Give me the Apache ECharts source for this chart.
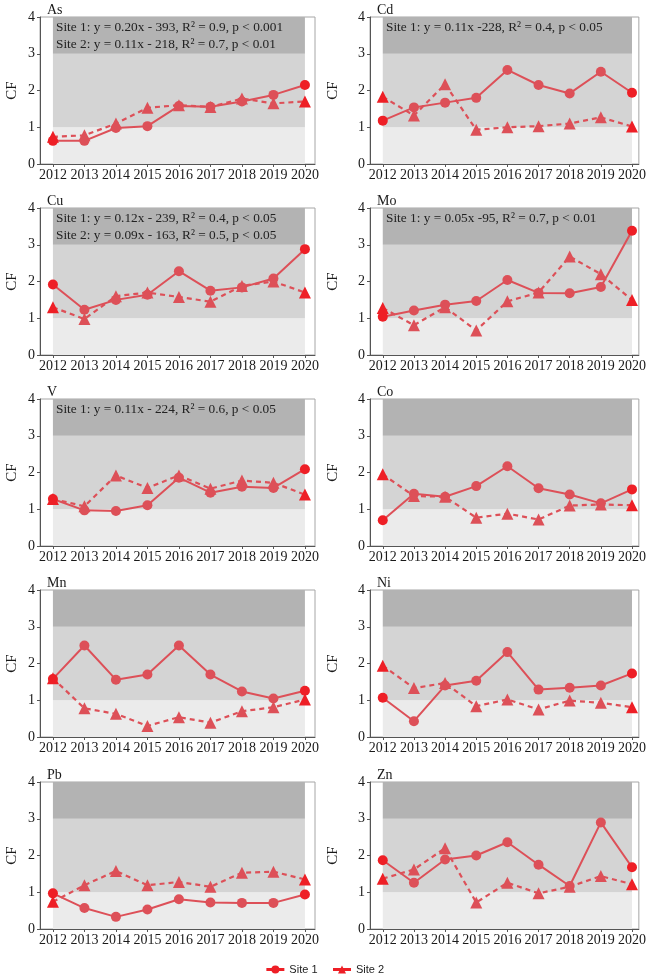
<!DOCTYPE html>
<html>
<head>
<meta charset="utf-8">
<script src="https://cdn.jsdelivr.net/npm/echarts@6/dist/echarts.min.js"></script>
<style>
  html, body { margin: 0; padding: 0; background: #fff; }
  #main { width: 649px; height: 974px; }
</style>
</head>
<body>
<div id="main"></div>
<script>
  // years on the x axis, CF ticks on the y axis
  const years = [2012, 2013, 2014, 2015, 2016, 2017, 2018, 2019, 2020];
  const yTicks = [0, 1, 2, 3, 4];
  // CF class bands: low / moderate / considerable
  const bandEdges = [0, 1, 3, 4];
  const bandColors = ['#ebebeb', '#d4d4d4', '#b3b3b3'];

  const elements = ['As', 'Cd', 'Cu', 'Mo', 'V', 'Co', 'Mn', 'Ni', 'Pb', 'Zn'];

  const asSite1 = [0.63, 0.63, 0.98, 1.03, 1.58, 1.56, 1.70, 1.88, 2.15];
  const asSite2 = [0.74, 0.78, 1.10, 1.53, 1.60, 1.55, 1.78, 1.65, 1.70];
  const cdSite1 = [1.18, 1.54, 1.67, 1.80, 2.56, 2.15, 1.92, 2.51, 1.94];
  const cdSite2 = [1.83, 1.32, 2.17, 0.93, 1.00, 1.03, 1.10, 1.27, 1.02];
  const cuSite1 = [1.92, 1.23, 1.50, 1.64, 2.28, 1.75, 1.84, 2.08, 2.88];
  const cuSite2 = [1.30, 0.98, 1.60, 1.70, 1.58, 1.45, 1.88, 2.00, 1.70];
  const moSite1 = [1.04, 1.21, 1.37, 1.47, 2.04, 1.69, 1.68, 1.85, 3.38];
  const moSite2 = [1.28, 0.81, 1.30, 0.67, 1.46, 1.70, 2.68, 2.20, 1.50];
  const vSite1 = [1.28, 0.97, 0.95, 1.11, 1.86, 1.45, 1.61, 1.58, 2.09];
  const vSite2 = [1.28, 1.08, 1.92, 1.58, 1.92, 1.56, 1.78, 1.72, 1.40];
  const coSite1 = [0.70, 1.42, 1.34, 1.63, 2.17, 1.57, 1.40, 1.16, 1.54];
  const coSite2 = [1.95, 1.36, 1.34, 0.77, 0.88, 0.72, 1.10, 1.13, 1.11];
  const mnSite1 = [1.58, 2.49, 1.56, 1.70, 2.49, 1.70, 1.24, 1.05, 1.26];
  const mnSite2 = [1.60, 0.78, 0.63, 0.30, 0.54, 0.39, 0.70, 0.81, 1.02];
  const niSite1 = [1.07, 0.43, 1.40, 1.53, 2.31, 1.29, 1.34, 1.40, 1.73];
  const niSite2 = [1.94, 1.33, 1.47, 0.84, 1.02, 0.75, 0.99, 0.93, 0.81];
  const pbSite1 = [0.97, 0.57, 0.33, 0.53, 0.81, 0.72, 0.71, 0.71, 0.94];
  const pbSite2 = [0.74, 1.19, 1.58, 1.19, 1.28, 1.15, 1.53, 1.56, 1.35];
  const znSite1 = [1.87, 1.26, 1.89, 2.00, 2.36, 1.75, 1.17, 2.90, 1.68];
  const znSite2 = [1.37, 1.62, 2.20, 0.72, 1.26, 0.97, 1.15, 1.44, 1.22];

  const site1 = [asSite1, cdSite1, cuSite1, moSite1, vSite1, coSite1, mnSite1, niSite1, pbSite1, znSite1];
  const site2 = [asSite2, cdSite2, cuSite2, moSite2, vSite2, coSite2, mnSite2, niSite2, pbSite2, znSite2];

  // regression notes printed in the top band
  const asFit = ['Site 1: y = 0.20x - 393, R\u00b2 = 0.9, p < 0.001', 'Site 2: y = 0.11x - 218, R\u00b2 = 0.7, p < 0.01'];
  const cdFit = ['Site 1: y = 0.11x -228, R\u00b2 = 0.4, p < 0.05'];
  const cuFit = ['Site 1: y = 0.12x - 239, R\u00b2 = 0.4, p < 0.05', 'Site 2: y = 0.09x - 163, R\u00b2 = 0.5, p < 0.05'];
  const moFit = ['Site 1: y = 0.05x -95, R\u00b2 = 0.7, p < 0.01'];
  const vFit = ['Site 1: y = 0.11x - 224, R\u00b2 = 0.6, p < 0.05'];
  const fits = [asFit, cdFit, cuFit, moFit, vFit, [], [], [], [], []];

  // layout
  const serif = "'Liberation Serif', 'Times New Roman', serif";
  const colLeft = [40, 370];
  const colWidth = [275, 272];
  const xMin = 2011.59;
  const xMax = [2020.32, 2020.22];
  const rowTop = [17, 208, 399, 590, 782];
  const plotH = 147;
  const lineColor = '#dd5058';
  const endColor = '#ee1f26';

  const grids = [], xAxes = [], yAxes = [], series = [], titles = [], graphics = [];

  elements.forEach(function (el, i) {
    const col = i % 2, row = Math.floor(i / 2);
    const left = colLeft[col], top = rowTop[row];

    grids.push({
      left: left, top: top, width: colWidth[col], height: plotH,
      show: true, backgroundColor: '#fff', borderColor: '#a6a6a6', borderWidth: 1
    });
    xAxes.push({
      type: 'value', gridIndex: i, min: xMin, max: xMax[col],
      axisLine: { show: true, onZero: false, lineStyle: { color: '#555', width: 1 } },
      axisTick: { show: true, customValues: years, length: 3, lineStyle: { color: '#555' } },
      axisLabel: {
        customValues: years, margin: 4, fontFamily: serif, fontSize: 14, color: '#1a1a1a',
        formatter: function (v) { return String(v); }
      },
      splitLine: { show: false }
    });
    yAxes.push({
      type: 'value', gridIndex: i, min: yTicks[0], max: yTicks[yTicks.length - 1], interval: 1,
      name: 'CF', nameLocation: 'middle', nameGap: col === 0 ? 20 : 29,
      nameTextStyle: { fontFamily: serif, fontSize: 15, color: '#1a1a1a' },
      axisLine: { show: true, lineStyle: { color: '#555', width: 1 } },
      axisTick: { show: true, length: 3, lineStyle: { color: '#555' } },
      axisLabel: { margin: 5, fontFamily: serif, fontSize: 14, color: '#1a1a1a' },
      splitLine: { show: false }
    });

    const bands = [];
    for (let b = 0; b < bandColors.length; b++) {
      bands.push([
        { coord: [years[0], bandEdges[b]], itemStyle: { color: bandColors[b] } },
        { coord: [years[years.length - 1], bandEdges[b + 1]] }
      ]);
    }
    series.push({
      type: 'line', xAxisIndex: i, yAxisIndex: i, data: [], silent: true, z: 1,
      markArea: { silent: true, itemStyle: { opacity: 1 }, data: bands }
    });

    const last = years.length - 1;
    const pointColor = function (p) {
      return (p.dataIndex === 0 || p.dataIndex === last) ? endColor : lineColor;
    };
    series.push({
      name: 'Site 1', type: 'line', xAxisIndex: i, yAxisIndex: i, z: 3,
      data: years.map(function (y, k) { return [y, site1[i][k]]; }),
      symbol: 'circle', symbolSize: 10,
      lineStyle: { color: lineColor, width: 2 },
      itemStyle: { color: pointColor }
    });
    series.push({
      name: 'Site 2', type: 'line', xAxisIndex: i, yAxisIndex: i, z: 3,
      data: years.map(function (y, k) { return [y, site2[i][k]]; }),
      symbol: 'triangle', symbolSize: 12,
      lineStyle: { color: lineColor, width: 2.2, type: [5, 4] },
      itemStyle: { color: pointColor }
    });

    titles.push({
      text: el, left: left + 2, top: top - 19,
      textStyle: { fontFamily: serif, fontSize: 14, fontWeight: 'normal', color: '#1a1a1a' }
    });

    fits[i].forEach(function (t, k) {
      graphics.push({
        type: 'text', left: left + 16, top: top + 4 + k * 17, z: 10,
        style: { text: t, fill: '#222', font: "13.3px 'Liberation Serif'" }
      });
    });
  });

  let myChart = echarts.init(document.getElementById('main'));
  myChart.setOption({
    animation: false,
    title: titles,
    grid: grids,
    xAxis: xAxes,
    yAxis: yAxes,
    series: series,
    graphic: graphics,
    legend: {
      top: 959, left: 'center', itemWidth: 18, itemHeight: 10, itemGap: 14,
      textStyle: { fontFamily: "'Liberation Sans', Arial, sans-serif", fontSize: 11, color: '#222' },
      data: [
        { name: 'Site 1', itemStyle: { color: endColor }, lineStyle: { color: endColor, type: 'solid', width: 3 } },
        { name: 'Site 2', itemStyle: { color: endColor }, lineStyle: { color: endColor, type: 'solid', width: 3 } }
      ]
    }
  });
</script>
</body>
</html>
